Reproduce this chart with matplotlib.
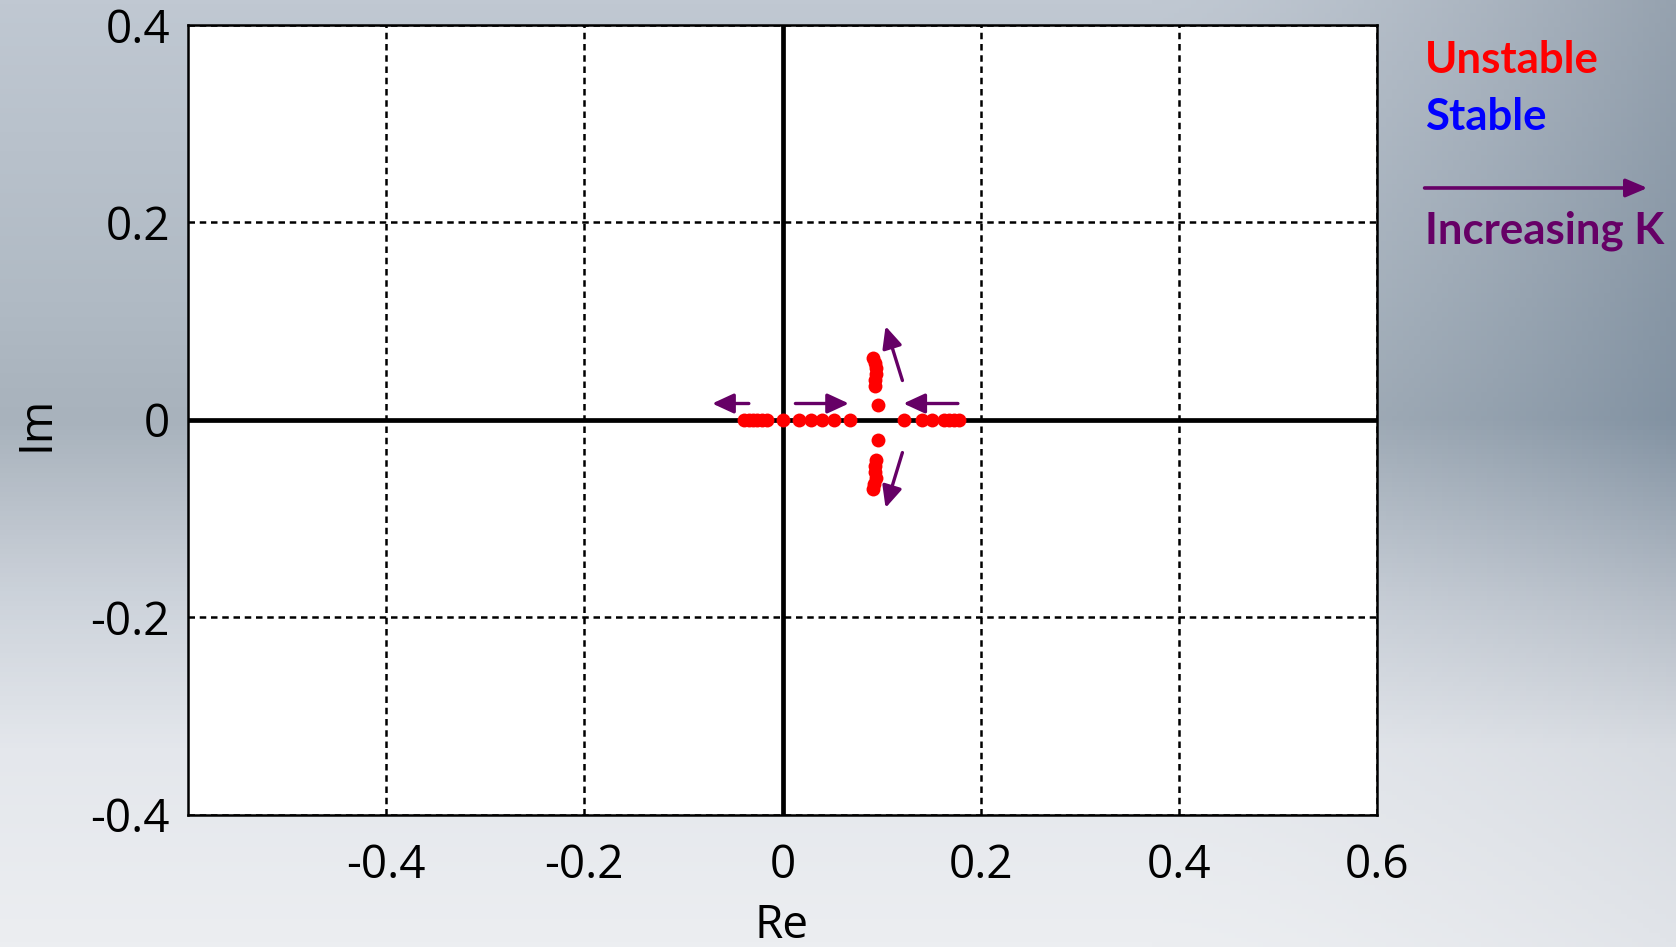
import numpy as np
import matplotlib.pyplot as plt
from matplotlib.patches import FancyArrowPatch

# root locus points (all unstable)
re_axis = [-0.039, -0.034, -0.030, -0.026, -0.021, -0.016, 0.0, 0.017, 0.029, 0.040, 0.052, 0.068,
           0.123, 0.141, 0.151, 0.163, 0.168, 0.173, 0.178]
im_axis = [0.0] * len(re_axis)
re_branch = [0.091, 0.093, 0.094, 0.094, 0.093, 0.093, 0.096,
             0.096, 0.094, 0.093, 0.093, 0.094, 0.092, 0.091]
im_branch = [0.063, 0.058, 0.053, 0.047, 0.040, 0.034, 0.015,
             -0.020, -0.041, -0.047, -0.053, -0.059, -0.065, -0.070]

# direction arrows (start, end)
arrow_start = [(-0.034, 0.0167), (0.013, 0.0167), (0.177, 0.0167), (0.121, 0.040), (0.121, -0.033)]
arrow_end = [(-0.071, 0.0167), (0.067, 0.0167), (0.122, 0.0167), (0.104, 0.095), (0.104, -0.089)]

xticks = [-0.4, -0.2, 0, 0.2, 0.4, 0.6]
yticks = [-0.4, -0.2, 0, 0.2, 0.4]
xticklabels = ['-0.4', '-0.2', '0', '0.2', '0.4', '0.6']
yticklabels = ['-0.4', '-0.2', '0', '0.2', '0.4']

purple = '#660066'

fig = plt.figure(figsize=(16.76, 9.47), dpi=100)

# slide-like gradient background
H, W = 200, 300
ys = np.linspace(0, 947, H)
xs = np.linspace(0, 1676, W)
base_y = [0, 300, 420, 600, 750, 947]
left_col = np.array([[192, 200, 210], [176, 186, 196], [168, 178, 188],
                     [205, 211, 219], [228, 231, 236], [236, 238, 241]])
right_col = np.array([[150, 162, 175], [135, 150, 165], [130, 146, 162],
                      [180, 188, 198], [215, 219, 225], [225, 228, 233]])
left = np.stack([np.interp(ys, base_y, left_col[:, c]) for c in range(3)], axis=1)
right = np.stack([np.interp(ys, base_y, right_col[:, c]) for c in range(3)], axis=1)
w = np.clip((xs - 1150) / 526, 0, 1) ** 1.5
img = left[:, None, :] * (1 - w[None, :, None]) + right[:, None, :] * w[None, :, None]
bg = fig.add_axes([0, 0, 1, 1], zorder=-1)
bg.imshow(img / 255, aspect='auto', extent=[0, 1, 0, 1])
bg.axis('off')

ax = fig.add_axes([0.1122, 0.1394, 0.7094, 0.8342])
ax.set_facecolor('white')
ax.set_xlim(-0.6, 0.6)
ax.set_ylim(-0.4, 0.4)
ax.set_xticks(xticks)
ax.set_xticklabels(xticklabels)
ax.set_yticks(yticks)
ax.set_yticklabels(yticklabels)
ax.tick_params(axis='x', length=0, labelsize=33, pad=20)
ax.tick_params(axis='y', length=0, labelsize=33, pad=13)
for lab in ax.get_xticklabels() + ax.get_yticklabels():
    lab.set_family('Open Sans')
ax.grid(True, color='black', linestyle=(0, (2.6, 1.9)), linewidth=1.8)
for s in ax.spines.values():
    s.set_linewidth(1.8)
ax.axhline(0, color='black', lw=3.4, zorder=2)
ax.axvline(0, color='black', lw=3.4, zorder=2)

ax.plot(re_axis, im_axis, 'o', color='red', markersize=10, markeredgewidth=0, zorder=4)
ax.plot(re_branch, im_branch, 'o', color='red', markersize=10, markeredgewidth=0, zorder=4)

for (x0, y0), (x1, y1) in zip(arrow_start, arrow_end):
    ax.annotate('', xy=(x1, y1), xytext=(x0, y0),
                arrowprops=dict(arrowstyle='-|>,head_length=1.3,head_width=0.6',
                                color=purple, lw=2.4, shrinkA=0, shrinkB=0), zorder=5)

fig.text(0.4665, 0.0095, 'Re', fontsize=33, family='Open Sans', ha='center', va='baseline')
fig.text(0.022, 0.553, 'Im', fontsize=33, family='Open Sans', rotation=90, ha='center', va='center')

fig.text(0.850, 0.9232, 'Unstable', fontsize=31.5, family='Lato', weight='bold', color='#ff0000')
fig.text(0.850, 0.8627, 'Stable', fontsize=31.5, family='Lato', weight='bold', color='#0000ff')
fig.text(0.850, 0.7431, 'Increasing K', fontsize=31.5, family='Lato', weight='bold', color=purple)
fig.patches.append(FancyArrowPatch(
    (0.850, 0.8015), (0.983, 0.8015), transform=fig.transFigure,
    arrowstyle='-|>,head_length=1.3,head_width=0.55', mutation_scale=10,
    color=purple, lw=2.6, shrinkA=0, shrinkB=0))

fig.savefig('out.png', dpi=100)
